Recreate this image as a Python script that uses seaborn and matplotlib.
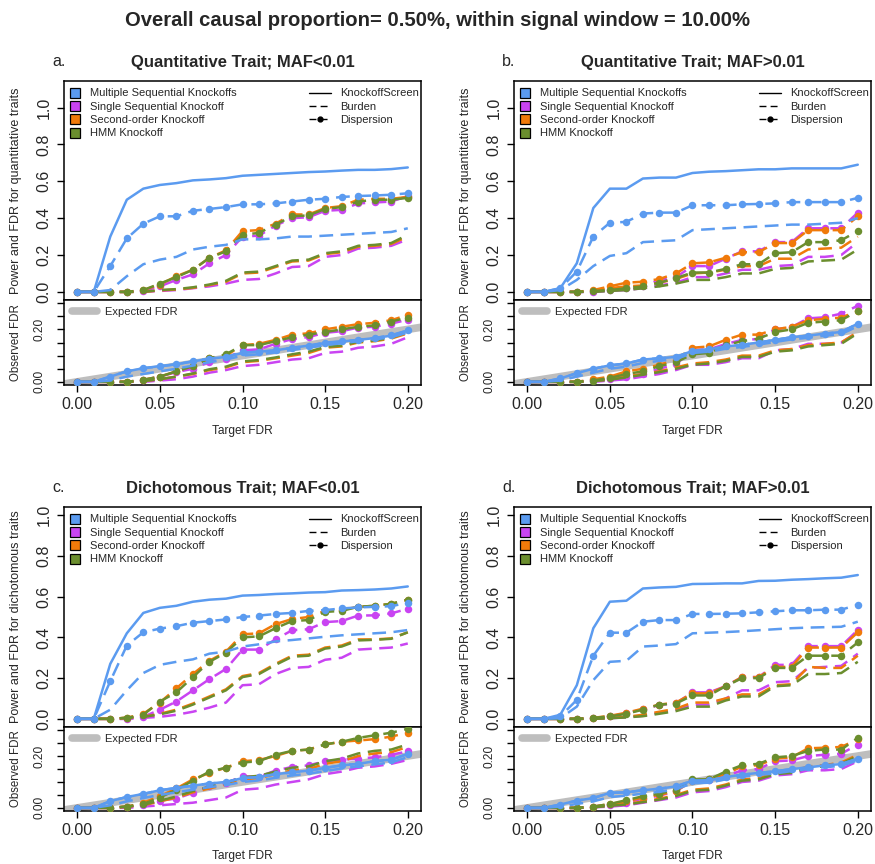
import matplotlib
matplotlib.use("Agg")
import matplotlib.pyplot as plt
from matplotlib.lines import Line2D
import seaborn as sns
import pandas as pd

sns.set_style("ticks")
plt.rcParams['font.family'] = ['Liberation Sans', 'DejaVu Sans']

# ---------------- data ----------------
TARGET_FDR = [0.00, 0.01, 0.02, 0.03, 0.04, 0.05, 0.06, 0.07, 0.08, 0.09, 0.10,
              0.11, 0.12, 0.13, 0.14, 0.15, 0.16, 0.17, 0.18, 0.19, 0.20]

METHODS = ["Multiple Sequential Knockoffs", "Single Sequential Knockoff",
           "Second-order Knockoff", "HMM Knockoff"]
STATS = ["KnockoffScreen", "Burden", "Dispersion"]
COLORS = ["#5B9BF0", "#C944F2", "#F07A0A", "#6B8E2E"]

PANEL_LETTERS = ["a.", "b.", "c.", "d."]
PANEL_TITLES = ["Quantitative Trait; MAF<0.01", "Quantitative Trait; MAF>0.01",
                "Dichotomous Trait; MAF<0.01", "Dichotomous Trait; MAF>0.01"]
POWER_YLABELS = ["Power and FDR for quantitative traits", "Power and FDR for quantitative traits",
                 "Power and FDR for dichotomous traits", "Power and FDR for dichotomous traits"]

# Panel a: quantitative, MAF<0.01
A_POW_MSK_KS = [0, 0, 0.30, 0.50, 0.56, 0.58, 0.59, 0.605, 0.61, 0.617, 0.63, 0.635, 0.64, 0.645, 0.65, 0.653, 0.658, 0.662, 0.662, 0.666, 0.675]
A_POW_MSK_BUR = [0, 0, 0.01, 0.085, 0.15, 0.175, 0.19, 0.23, 0.245, 0.255, 0.285, 0.285, 0.29, 0.30, 0.30, 0.305, 0.31, 0.315, 0.32, 0.325, 0.345]
A_POW_MSK_DIS = [0, 0, 0.14, 0.29, 0.37, 0.41, 0.41, 0.44, 0.45, 0.46, 0.475, 0.475, 0.48, 0.49, 0.50, 0.505, 0.515, 0.52, 0.523, 0.527, 0.535]
A_POW_SSK_BUR = [0, 0, 0, 0, 0, 0.005, 0.01, 0.02, 0.03, 0.045, 0.065, 0.07, 0.10, 0.135, 0.14, 0.19, 0.20, 0.235, 0.24, 0.25, 0.285]
A_POW_SSK_DIS = [0, 0, 0, 0, 0.005, 0.03, 0.065, 0.095, 0.155, 0.20, 0.30, 0.305, 0.36, 0.40, 0.405, 0.44, 0.445, 0.48, 0.485, 0.49, 0.52]
A_POW_SOK_BUR = [0, 0, 0, 0, 0, 0.008, 0.013, 0.022, 0.037, 0.055, 0.10, 0.105, 0.135, 0.165, 0.17, 0.205, 0.215, 0.245, 0.25, 0.26, 0.30]
A_POW_SOK_DIS = [0, 0, 0, 0, 0.01, 0.04, 0.085, 0.12, 0.185, 0.225, 0.33, 0.335, 0.37, 0.42, 0.42, 0.455, 0.465, 0.50, 0.505, 0.505, 0.515]
A_POW_HMM_BUR = [0, 0, 0, 0, 0, 0.01, 0.015, 0.025, 0.04, 0.06, 0.105, 0.11, 0.14, 0.17, 0.175, 0.21, 0.22, 0.25, 0.255, 0.265, 0.31]
A_POW_HMM_DIS = [0, 0, 0, 0, 0.01, 0.045, 0.08, 0.12, 0.185, 0.22, 0.31, 0.32, 0.365, 0.41, 0.415, 0.45, 0.46, 0.49, 0.50, 0.50, 0.51]

A_FDR_MSK_KS = [0, 0, 0.02, 0.04, 0.052, 0.06, 0.067, 0.078, 0.088, 0.095, 0.11, 0.115, 0.12, 0.13, 0.138, 0.148, 0.154, 0.16, 0.167, 0.176, 0.196]
A_FDR_MSK_BUR = [0, 0, 0.005, 0.02, 0.03, 0.04, 0.05, 0.062, 0.075, 0.085, 0.10, 0.105, 0.112, 0.122, 0.13, 0.14, 0.147, 0.155, 0.162, 0.17, 0.188]
A_FDR_MSK_DIS = [0, 0, 0.02, 0.04, 0.052, 0.059, 0.067, 0.078, 0.089, 0.095, 0.112, 0.115, 0.12, 0.13, 0.138, 0.15, 0.154, 0.16, 0.167, 0.178, 0.196]
A_FDR_SSK_BUR = [0, 0, 0, 0, 0, 0.005, 0.01, 0.02, 0.035, 0.045, 0.06, 0.065, 0.075, 0.085, 0.09, 0.11, 0.115, 0.13, 0.135, 0.145, 0.17]
A_FDR_SSK_DIS = [0, 0, 0, 0, 0.007, 0.02, 0.037, 0.05, 0.076, 0.089, 0.12, 0.124, 0.145, 0.163, 0.171, 0.187, 0.193, 0.207, 0.21, 0.222, 0.237]
A_FDR_SOK_BUR = [0, 0, 0, 0, 0.003, 0.01, 0.02, 0.03, 0.045, 0.055, 0.075, 0.08, 0.09, 0.10, 0.11, 0.13, 0.135, 0.15, 0.155, 0.165, 0.185]
A_FDR_SOK_DIS = [0, 0, 0, 0, 0.008, 0.02, 0.04, 0.06, 0.09, 0.10, 0.14, 0.145, 0.16, 0.18, 0.185, 0.20, 0.21, 0.22, 0.225, 0.235, 0.255]
A_FDR_HMM_BUR = [0, 0, 0, 0, 0.003, 0.01, 0.02, 0.032, 0.048, 0.058, 0.078, 0.083, 0.093, 0.105, 0.115, 0.133, 0.138, 0.153, 0.158, 0.168, 0.19]
A_FDR_HMM_DIS = [0, 0, 0, 0, 0.008, 0.02, 0.04, 0.06, 0.09, 0.105, 0.14, 0.14, 0.155, 0.17, 0.18, 0.19, 0.20, 0.21, 0.215, 0.23, 0.245]

# Panel b: quantitative, MAF>0.01
B_POW_MSK_KS = [0, 0, 0.02, 0.155, 0.455, 0.56, 0.56, 0.615, 0.62, 0.62, 0.645, 0.652, 0.655, 0.66, 0.665, 0.665, 0.67, 0.67, 0.67, 0.67, 0.69]
B_POW_MSK_BUR = [0, 0, 0.01, 0.065, 0.14, 0.195, 0.21, 0.27, 0.275, 0.28, 0.335, 0.34, 0.345, 0.35, 0.355, 0.36, 0.365, 0.365, 0.37, 0.375, 0.40]
B_POW_MSK_DIS = [0, 0, 0.02, 0.11, 0.30, 0.375, 0.38, 0.425, 0.43, 0.43, 0.47, 0.47, 0.47, 0.475, 0.477, 0.48, 0.487, 0.487, 0.487, 0.487, 0.51]
B_POW_SSK_BUR = [0, 0, 0, 0, 0, 0.005, 0.01, 0.02, 0.035, 0.05, 0.08, 0.08, 0.10, 0.12, 0.12, 0.14, 0.145, 0.19, 0.19, 0.20, 0.27]
B_POW_SSK_DIS = [0, 0, 0, 0, 0, 0.01, 0.02, 0.03, 0.065, 0.08, 0.14, 0.14, 0.18, 0.22, 0.22, 0.27, 0.27, 0.345, 0.345, 0.345, 0.43]
B_POW_SOK_BUR = [0, 0, 0, 0, 0.005, 0.02, 0.03, 0.035, 0.05, 0.07, 0.10, 0.105, 0.12, 0.14, 0.14, 0.18, 0.18, 0.23, 0.235, 0.24, 0.30]
B_POW_SOK_DIS = [0, 0, 0, 0, 0.01, 0.03, 0.05, 0.055, 0.07, 0.10, 0.155, 0.16, 0.185, 0.215, 0.215, 0.265, 0.265, 0.335, 0.335, 0.335, 0.41]
B_POW_HMM_BUR = [0, 0, 0, 0, 0, 0.005, 0.01, 0.02, 0.03, 0.045, 0.065, 0.065, 0.08, 0.10, 0.10, 0.125, 0.13, 0.165, 0.17, 0.175, 0.23]
B_POW_HMM_DIS = [0, 0, 0, 0, 0.005, 0.01, 0.02, 0.03, 0.05, 0.075, 0.105, 0.105, 0.125, 0.15, 0.15, 0.21, 0.215, 0.27, 0.27, 0.28, 0.33]

B_FDR_MSK_KS = [0, 0, 0.013, 0.033, 0.05, 0.063, 0.07, 0.085, 0.09, 0.095, 0.118, 0.124, 0.135, 0.141, 0.15, 0.16, 0.17, 0.176, 0.184, 0.19, 0.222]
B_FDR_MSK_BUR = [0, 0, 0.005, 0.02, 0.035, 0.05, 0.058, 0.072, 0.08, 0.087, 0.11, 0.115, 0.126, 0.133, 0.142, 0.152, 0.162, 0.168, 0.176, 0.182, 0.212]
B_FDR_MSK_DIS = [0, 0, 0.013, 0.033, 0.05, 0.063, 0.07, 0.085, 0.09, 0.095, 0.118, 0.124, 0.135, 0.141, 0.15, 0.16, 0.17, 0.176, 0.184, 0.19, 0.222]
B_FDR_SSK_BUR = [0, 0, 0, 0, 0, 0.005, 0.01, 0.02, 0.03, 0.045, 0.065, 0.065, 0.075, 0.09, 0.09, 0.12, 0.125, 0.145, 0.145, 0.15, 0.19]
B_FDR_SSK_DIS = [0, 0, 0, 0, 0.007, 0.01, 0.02, 0.03, 0.05, 0.067, 0.122, 0.124, 0.144, 0.16, 0.163, 0.20, 0.209, 0.242, 0.246, 0.26, 0.29]
B_FDR_SOK_BUR = [0, 0, 0, 0, 0.003, 0.01, 0.02, 0.03, 0.04, 0.055, 0.07, 0.075, 0.085, 0.10, 0.10, 0.12, 0.125, 0.14, 0.145, 0.15, 0.19]
B_FDR_SOK_DIS = [0, 0, 0, 0, 0.01, 0.02, 0.04, 0.05, 0.065, 0.085, 0.13, 0.135, 0.16, 0.18, 0.18, 0.20, 0.21, 0.235, 0.24, 0.245, 0.27]
B_FDR_HMM_BUR = [0, 0, 0, 0, 0.003, 0.008, 0.017, 0.027, 0.037, 0.05, 0.065, 0.07, 0.08, 0.095, 0.095, 0.115, 0.12, 0.135, 0.14, 0.145, 0.185]
B_FDR_HMM_DIS = [0, 0, 0, 0, 0.005, 0.015, 0.03, 0.04, 0.06, 0.075, 0.105, 0.11, 0.14, 0.155, 0.165, 0.19, 0.20, 0.225, 0.23, 0.235, 0.27]

# Panel c: dichotomous, MAF<0.01
C_POW_MSK_KS = [0, 0, 0.27, 0.42, 0.52, 0.545, 0.555, 0.575, 0.585, 0.59, 0.605, 0.608, 0.613, 0.616, 0.62, 0.622, 0.63, 0.632, 0.635, 0.64, 0.65]
C_POW_MSK_BUR = [0, 0, 0.045, 0.14, 0.225, 0.265, 0.28, 0.292, 0.32, 0.33, 0.355, 0.366, 0.38, 0.387, 0.395, 0.403, 0.41, 0.415, 0.42, 0.425, 0.436]
C_POW_MSK_DIS = [0, 0, 0.185, 0.36, 0.425, 0.443, 0.455, 0.472, 0.48, 0.488, 0.50, 0.507, 0.515, 0.52, 0.53, 0.534, 0.542, 0.547, 0.55, 0.553, 0.57]
C_POW_SSK_BUR = [0, 0, 0, 0, 0.005, 0.01, 0.02, 0.035, 0.055, 0.08, 0.165, 0.17, 0.22, 0.25, 0.255, 0.29, 0.30, 0.34, 0.345, 0.35, 0.37]
C_POW_SSK_DIS = [0, 0, 0, 0, 0.01, 0.045, 0.085, 0.14, 0.195, 0.245, 0.34, 0.34, 0.39, 0.435, 0.44, 0.475, 0.48, 0.507, 0.508, 0.518, 0.54]
C_POW_SOK_BUR = [0, 0, 0, 0.005, 0.01, 0.025, 0.045, 0.075, 0.11, 0.145, 0.21, 0.225, 0.27, 0.31, 0.315, 0.35, 0.36, 0.39, 0.39, 0.395, 0.425]
C_POW_SOK_DIS = [0, 0, 0, 0.005, 0.025, 0.08, 0.15, 0.22, 0.285, 0.33, 0.415, 0.42, 0.465, 0.49, 0.50, 0.53, 0.535, 0.55, 0.555, 0.565, 0.585]
C_POW_HMM_BUR = [0, 0, 0, 0.005, 0.01, 0.022, 0.04, 0.07, 0.105, 0.14, 0.205, 0.22, 0.265, 0.305, 0.31, 0.345, 0.355, 0.385, 0.388, 0.393, 0.425]
C_POW_HMM_DIS = [0, 0, 0, 0.005, 0.02, 0.085, 0.13, 0.205, 0.28, 0.325, 0.40, 0.405, 0.445, 0.48, 0.485, 0.525, 0.53, 0.55, 0.555, 0.565, 0.585]

C_FDR_MSK_KS = [0, 0, 0.026, 0.042, 0.054, 0.068, 0.077, 0.086, 0.094, 0.10, 0.115, 0.119, 0.13, 0.137, 0.144, 0.154, 0.164, 0.17, 0.18, 0.186, 0.208]
C_FDR_MSK_BUR = [0, 0, 0.01, 0.025, 0.038, 0.05, 0.06, 0.07, 0.08, 0.088, 0.10, 0.106, 0.116, 0.125, 0.132, 0.142, 0.152, 0.16, 0.168, 0.175, 0.196]
C_FDR_MSK_DIS = [0, 0, 0.026, 0.042, 0.054, 0.068, 0.077, 0.086, 0.094, 0.10, 0.115, 0.119, 0.13, 0.137, 0.144, 0.154, 0.164, 0.17, 0.18, 0.186, 0.208]
C_FDR_SSK_BUR = [0, 0, 0, 0, 0.005, 0.01, 0.015, 0.02, 0.03, 0.04, 0.07, 0.075, 0.09, 0.10, 0.11, 0.13, 0.14, 0.155, 0.16, 0.17, 0.185]
C_FDR_SSK_DIS = [0, 0, 0, 0.005, 0.01, 0.028, 0.036, 0.058, 0.083, 0.096, 0.122, 0.12, 0.144, 0.158, 0.164, 0.18, 0.186, 0.19, 0.195, 0.205, 0.218]
C_FDR_SOK_BUR = [0, 0, 0, 0.005, 0.01, 0.025, 0.04, 0.06, 0.075, 0.09, 0.11, 0.115, 0.13, 0.145, 0.15, 0.17, 0.18, 0.20, 0.21, 0.215, 0.235]
C_FDR_SOK_DIS = [0, 0, 0, 0.005, 0.02, 0.045, 0.075, 0.11, 0.135, 0.155, 0.18, 0.185, 0.20, 0.22, 0.225, 0.245, 0.255, 0.26, 0.265, 0.275, 0.29]
C_FDR_HMM_BUR = [0, 0, 0, 0.005, 0.012, 0.028, 0.044, 0.065, 0.082, 0.097, 0.118, 0.124, 0.14, 0.155, 0.16, 0.18, 0.19, 0.21, 0.22, 0.225, 0.245]
C_FDR_HMM_DIS = [0, 0, 0, 0.005, 0.015, 0.04, 0.07, 0.105, 0.14, 0.155, 0.175, 0.18, 0.205, 0.22, 0.225, 0.245, 0.255, 0.27, 0.28, 0.29, 0.305]

# Panel d: dichotomous, MAF>0.01
D_POW_MSK_KS = [0, 0, 0.02, 0.165, 0.445, 0.575, 0.58, 0.64, 0.645, 0.648, 0.662, 0.663, 0.665, 0.665, 0.677, 0.678, 0.683, 0.686, 0.69, 0.693, 0.706]
D_POW_MSK_BUR = [0, 0, 0.003, 0.06, 0.19, 0.28, 0.285, 0.355, 0.36, 0.367, 0.42, 0.423, 0.426, 0.43, 0.435, 0.44, 0.445, 0.448, 0.45, 0.452, 0.477]
D_POW_MSK_DIS = [0, 0, 0.012, 0.093, 0.31, 0.423, 0.423, 0.477, 0.485, 0.485, 0.515, 0.515, 0.516, 0.518, 0.523, 0.528, 0.533, 0.533, 0.536, 0.536, 0.56]
D_POW_SSK_BUR = [0, 0, 0, 0, 0, 0.003, 0.008, 0.015, 0.03, 0.045, 0.07, 0.07, 0.10, 0.14, 0.14, 0.18, 0.185, 0.25, 0.255, 0.26, 0.32]
D_POW_SSK_DIS = [0, 0, 0, 0, 0.003, 0.012, 0.028, 0.047, 0.068, 0.077, 0.13, 0.13, 0.16, 0.205, 0.205, 0.265, 0.265, 0.357, 0.357, 0.357, 0.436]
D_POW_SOK_BUR = [0, 0, 0, 0, 0, 0.005, 0.01, 0.02, 0.035, 0.05, 0.08, 0.08, 0.10, 0.12, 0.12, 0.165, 0.17, 0.255, 0.25, 0.25, 0.31]
D_POW_SOK_DIS = [0, 0, 0, 0, 0.005, 0.015, 0.03, 0.05, 0.07, 0.08, 0.125, 0.125, 0.16, 0.205, 0.205, 0.255, 0.255, 0.35, 0.35, 0.35, 0.425]
D_POW_HMM_BUR = [0, 0, 0, 0, 0, 0.003, 0.007, 0.013, 0.025, 0.038, 0.06, 0.06, 0.09, 0.11, 0.11, 0.16, 0.165, 0.22, 0.22, 0.225, 0.28]
D_POW_HMM_DIS = [0, 0, 0, 0, 0.005, 0.012, 0.025, 0.045, 0.07, 0.075, 0.115, 0.115, 0.16, 0.20, 0.20, 0.25, 0.25, 0.31, 0.31, 0.31, 0.375]

D_FDR_MSK_KS = [0, 0, 0.013, 0.028, 0.038, 0.058, 0.06, 0.068, 0.074, 0.083, 0.105, 0.106, 0.119, 0.128, 0.135, 0.141, 0.15, 0.156, 0.164, 0.169, 0.19]
D_FDR_MSK_BUR = [0, 0, 0.005, 0.015, 0.025, 0.042, 0.047, 0.055, 0.062, 0.072, 0.095, 0.097, 0.11, 0.12, 0.127, 0.133, 0.142, 0.15, 0.157, 0.162, 0.183]
D_FDR_MSK_DIS = [0, 0, 0.013, 0.028, 0.038, 0.058, 0.06, 0.068, 0.074, 0.083, 0.105, 0.106, 0.119, 0.128, 0.135, 0.141, 0.15, 0.156, 0.164, 0.169, 0.19]
D_FDR_SSK_BUR = [0, 0, 0, 0, 0.002, 0.005, 0.01, 0.02, 0.03, 0.04, 0.06, 0.065, 0.08, 0.10, 0.105, 0.125, 0.13, 0.145, 0.145, 0.15, 0.18]
D_FDR_SSK_DIS = [0, 0, 0, 0, 0.005, 0.013, 0.02, 0.036, 0.047, 0.064, 0.106, 0.106, 0.122, 0.145, 0.15, 0.18, 0.183, 0.20, 0.205, 0.209, 0.244]
D_FDR_SOK_BUR = [0, 0, 0, 0, 0.003, 0.01, 0.015, 0.025, 0.035, 0.05, 0.07, 0.075, 0.09, 0.11, 0.115, 0.135, 0.14, 0.16, 0.165, 0.175, 0.205]
D_FDR_SOK_DIS = [0, 0, 0, 0, 0.005, 0.015, 0.025, 0.04, 0.05, 0.065, 0.105, 0.11, 0.13, 0.16, 0.165, 0.19, 0.195, 0.23, 0.232, 0.235, 0.265]
D_FDR_HMM_BUR = [0, 0, 0, 0, 0.002, 0.008, 0.013, 0.022, 0.032, 0.046, 0.066, 0.07, 0.086, 0.105, 0.11, 0.13, 0.135, 0.155, 0.16, 0.17, 0.2]
D_FDR_HMM_DIS = [0, 0, 0, 0, 0.005, 0.015, 0.03, 0.045, 0.055, 0.07, 0.11, 0.11, 0.14, 0.165, 0.17, 0.195, 0.20, 0.22, 0.225, 0.225, 0.27]

POWER = [
    {"MSK": (A_POW_MSK_KS, A_POW_MSK_BUR, A_POW_MSK_DIS), "SSK": (A_POW_SSK_BUR, A_POW_SSK_DIS),
     "SOK": (A_POW_SOK_BUR, A_POW_SOK_DIS), "HMM": (A_POW_HMM_BUR, A_POW_HMM_DIS)},
    {"MSK": (B_POW_MSK_KS, B_POW_MSK_BUR, B_POW_MSK_DIS), "SSK": (B_POW_SSK_BUR, B_POW_SSK_DIS),
     "SOK": (B_POW_SOK_BUR, B_POW_SOK_DIS), "HMM": (B_POW_HMM_BUR, B_POW_HMM_DIS)},
    {"MSK": (C_POW_MSK_KS, C_POW_MSK_BUR, C_POW_MSK_DIS), "SSK": (C_POW_SSK_BUR, C_POW_SSK_DIS),
     "SOK": (C_POW_SOK_BUR, C_POW_SOK_DIS), "HMM": (C_POW_HMM_BUR, C_POW_HMM_DIS)},
    {"MSK": (D_POW_MSK_KS, D_POW_MSK_BUR, D_POW_MSK_DIS), "SSK": (D_POW_SSK_BUR, D_POW_SSK_DIS),
     "SOK": (D_POW_SOK_BUR, D_POW_SOK_DIS), "HMM": (D_POW_HMM_BUR, D_POW_HMM_DIS)},
]
FDR = [
    {"MSK": (A_FDR_MSK_KS, A_FDR_MSK_BUR, A_FDR_MSK_DIS), "SSK": (A_FDR_SSK_BUR, A_FDR_SSK_DIS),
     "SOK": (A_FDR_SOK_BUR, A_FDR_SOK_DIS), "HMM": (A_FDR_HMM_BUR, A_FDR_HMM_DIS)},
    {"MSK": (B_FDR_MSK_KS, B_FDR_MSK_BUR, B_FDR_MSK_DIS), "SSK": (B_FDR_SSK_BUR, B_FDR_SSK_DIS),
     "SOK": (B_FDR_SOK_BUR, B_FDR_SOK_DIS), "HMM": (B_FDR_HMM_BUR, B_FDR_HMM_DIS)},
    {"MSK": (C_FDR_MSK_KS, C_FDR_MSK_BUR, C_FDR_MSK_DIS), "SSK": (C_FDR_SSK_BUR, C_FDR_SSK_DIS),
     "SOK": (C_FDR_SOK_BUR, C_FDR_SOK_DIS), "HMM": (C_FDR_HMM_BUR, C_FDR_HMM_DIS)},
    {"MSK": (D_FDR_MSK_KS, D_FDR_MSK_BUR, D_FDR_MSK_DIS), "SSK": (D_FDR_SSK_BUR, D_FDR_SSK_DIS),
     "SOK": (D_FDR_SOK_BUR, D_FDR_SOK_DIS), "HMM": (D_FDR_HMM_BUR, D_FDR_HMM_DIS)},
]
KEYS = ["MSK", "SSK", "SOK", "HMM"]
DRAW_ORDER = ["SSK", "SOK", "HMM", "MSK"]

# ---------------- styling ----------------
W, H = 875, 864
LW = 1.8
DASH = (0, (5.5, 3))
MS = 5.4
LEG_FS = 8.0

fig = plt.figure(figsize=(W / 100, H / 100), dpi=100)


def rect(x0, x1, y0, y1):
    return [x0 / W, 1 - y1 / H, (x1 - x0) / W, (y1 - y0) / H]


COLS = [(64, 421), (514, 871)]
ROWS = [((81, 300), (300, 385), (-0.044, 1.144)), ((507, 727), (727, 811), (-0.04, 1.04))]


def draw_series(ax, key, series):
    c = COLORS[KEYS.index(key)]
    if key == "MSK":
        ks, bur, dis = series
        sns.lineplot(x=TARGET_FDR, y=ks, ax=ax, color=c, lw=LW, legend=False, zorder=4)
    else:
        bur, dis = series
    sns.lineplot(x=TARGET_FDR, y=bur, ax=ax, color=c, lw=LW, linestyle=DASH, legend=False, zorder=3)
    sns.lineplot(x=TARGET_FDR, y=dis, ax=ax, color=c, lw=LW, linestyle=DASH, marker='o',
                 markersize=MS, markeredgewidth=0, legend=False, zorder=3)


def style_axes(ax):
    for s in ax.spines.values():
        s.set_linewidth(1.1)
        s.set_color('black')
    ax.tick_params(axis='both', direction='out', length=5, width=1.0, color='black')
    ax.set_xlim(-0.008, 0.208)
    ax.grid(False)


for p in range(4):
    r, cidx = divmod(p, 2)
    (ty0, ty1), (by0, by1), ylim_top = ROWS[r]
    x0, x1 = COLS[cidx]
    ax_t = fig.add_axes(rect(x0, x1, ty0, ty1))
    ax_b = fig.add_axes(rect(x0, x1, by0, by1))

    # power panel
    for k in DRAW_ORDER:
        draw_series(ax_t, k, POWER[p][k])
    style_axes(ax_t)
    ax_t.set_ylim(*ylim_top)
    ax_t.set_yticks([0, 0.2, 0.4, 0.6, 0.8, 1.0])
    ax_t.set_yticklabels(["0.0", "0.2", "0.4", "0.6", "0.8", "1.0"])
    ax_t.tick_params(axis='y', labelrotation=90, labelsize=11.5, pad=4)
    for lab in ax_t.get_yticklabels():
        lab.set_va('center')
    ax_t.tick_params(axis='x', bottom=False, labelbottom=False)
    ax_t.set_xlabel("")
    ax_t.set_ylabel(POWER_YLABELS[p], fontsize=9.0)
    ax_t.yaxis.set_label_coords(-0.117, 0.5)

    m_handles = [Line2D([], [], linestyle='none', marker='s', markersize=6.5,
                        markerfacecolor=COLORS[i], markeredgecolor='black', markeredgewidth=0.9)
                 for i in range(4)]
    leg1 = ax_t.legend(m_handles, METHODS, loc='upper left', bbox_to_anchor=(0.018, 0.966),
                       frameon=False, fontsize=LEG_FS, handlelength=0.8, handletextpad=0.95,
                       labelspacing=0.3, borderpad=0, borderaxespad=0)
    ax_t.add_artist(leg1)
    s_handles = [Line2D([], [], color='black', lw=1.0),
                 Line2D([], [], color='black', lw=1.0, linestyle=(0, (5, 3))),
                 Line2D([], [], color='black', lw=1.0, linestyle=(0, (5, 3)), marker='o', markersize=3.5)]
    ax_t.legend(s_handles, STATS, loc='upper left', bbox_to_anchor=(0.687, 0.966),
                frameon=False, fontsize=LEG_FS, handlelength=1.95, handletextpad=0.8,
                labelspacing=0.3, borderpad=0, borderaxespad=0)

    # FDR panel
    ax_b.axline((0, 0), slope=1, color='#BEBEBE', lw=5.5, solid_capstyle='round', zorder=1)
    for k in DRAW_ORDER:
        draw_series(ax_b, k, FDR[p][k])
    style_axes(ax_b)
    ax_b.set_ylim(-0.012, 0.312)
    ax_b.set_yticks([0, 0.05, 0.10, 0.15, 0.20, 0.25, 0.30])
    ax_b.set_yticklabels(["0.00", "", "", "", "0.20", "", ""])
    ax_b.tick_params(axis='y', labelrotation=90, labelsize=8.6, pad=8)
    for lab in ax_b.get_yticklabels():
        lab.set_va('center')
    ax_b.set_xticks([0, 0.05, 0.10, 0.15, 0.20])
    ax_b.set_xticklabels(["0.00", "0.05", "0.10", "0.15", "0.20"])
    ax_b.tick_params(axis='x', labelsize=11.5, pad=3.5)
    ax_b.set_xlabel("Target FDR", fontsize=8.6)
    ax_b.xaxis.set_label_coords(0.5, -0.47)
    ax_b.set_ylabel("Observed FDR", fontsize=8.3)
    ax_b.yaxis.set_label_coords(-0.117, 0.5)
    ax_b.legend([Line2D([], [], color='#BEBEBE', lw=5.5, solid_capstyle='round')], ["Expected FDR"],
                loc='upper left', bbox_to_anchor=(0.022, 0.915), frameon=False, fontsize=LEG_FS,
                handlelength=2.3, handletextpad=0.7, borderpad=0, borderaxespad=0)

    # titles
    ty = 62 if r == 0 else 488
    fig.text((x0 + x1) / 2 / W, 1 - ty / H, PANEL_TITLES[p], ha='center', va='center',
             fontsize=12, fontweight='bold')
    fig.text((x0 - 12) / W, 1 - ty / H, PANEL_LETTERS[p], ha='left', va='center', fontsize=11.5)

fig.text(0.5, 1 - 20 / H, "Overall causal proportion= 0.50%, within signal window = 10.00%",
         ha='center', va='center', fontsize=14.6, fontweight='bold')

fig.savefig("out.png", dpi=100, facecolor='white')
